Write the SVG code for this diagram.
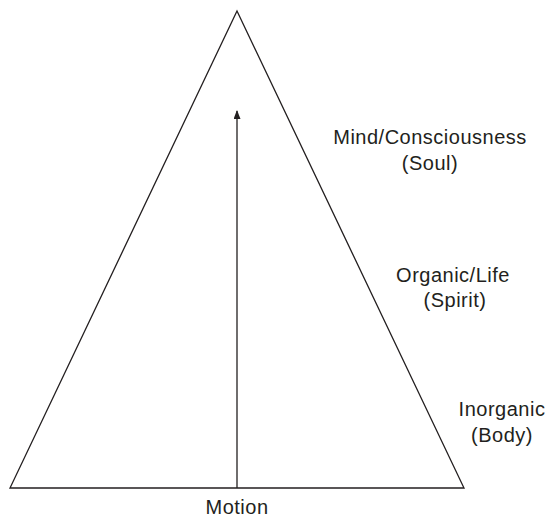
<svg xmlns="http://www.w3.org/2000/svg" width="546" height="518" viewBox="0 0 546 518">
<style>
.t{font-family:"Liberation Sans",Arial,sans-serif;font-size:20px;fill:#231f20;text-anchor:middle;letter-spacing:0.5px}
.l{stroke:#231f20;fill:none;stroke-width:1.3}
</style>
<defs>
<marker id="ah" markerWidth="9" markerHeight="7" refX="8" refY="3.5" orient="auto" markerUnits="userSpaceOnUse" viewBox="0 0 9 7">
<path d="M0,0 L9,3.5 L0,7 Z" fill="#231f20"/>
</marker>
</defs>
<rect width="546" height="518" fill="#fff"/>
<g id="triangle"><path class="l" d="M237,11 L464,488 L10,488 Z" stroke-linejoin="miter"/></g>
<g id="connectors"><line class="l" x1="237" y1="488" x2="237" y2="111" marker-end="url(#ah)"/></g>
<g id="mind"><text class="t" x="430" y="144">Mind/Consciousness</text><text class="t" x="430" y="170">(Soul)</text></g>
<g id="organic"><text class="t" x="453" y="282">Organic/Life</text><text class="t" x="455" y="307">(Spirit)</text></g>
<g id="inorganic"><text class="t" x="502" y="416">Inorganic</text><text class="t" x="502" y="442">(Body)</text></g>
<g id="motion"><text class="t" x="237" y="514">Motion</text></g>
</svg>
